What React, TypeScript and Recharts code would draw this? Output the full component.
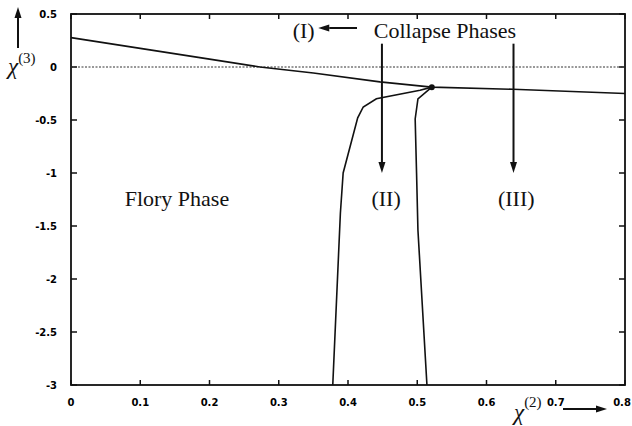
import React from 'react';
import {
  LineChart,
  Line,
  XAxis,
  YAxis,
  ReferenceLine,
  ReferenceDot,
} from 'recharts';

// phase boundary between Flory phase and collapse phase (I)
const boundaryX = [0, 0.1, 0.2, 0.273, 0.35, 0.446, 0.521, 0.638, 0.8];
const boundaryY = [0.277, 0.176, 0.074, 0, -0.057, -0.14, -0.19, -0.21, -0.25];

// left branch (Flory / II)
const leftX = [0.521, 0.504, 0.441, 0.422, 0.414, 0.393, 0.389, 0.378];
const leftY = [-0.19, -0.22, -0.3, -0.377, -0.48, -1.0, -1.38, -3];

// right branch (II / III)
const rightX = [0.521, 0.501, 0.497, 0.499, 0.501, 0.514];
const rightY = [-0.19, -0.3, -0.49, -1.0, -1.54, -3];

const xTicks = [0, 0.1, 0.2, 0.3, 0.4, 0.5, 0.6, 0.7, 0.8];
const yTicks = [0.5, 0, -0.5, -1, -1.5, -2, -2.5, -3];

const triplePoint = { x: 0.521, y: -0.19 };

const toPoints = (xs: number[], ys: number[]) => xs.map((x, i) => ({ x, y: ys[i] }));
const boundary = toPoints(boundaryX, boundaryY);
const leftBranch = toPoints(leftX, leftY);
const rightBranch = toPoints(rightX, rightY);

const X_DOMAIN = [0, 0.8];
const Y_DOMAIN = [-3, 0.5];

// two points well inside the plot; the frame shape maps data to pixels from them
const frameFrom = { x: 0.1, y: -2.5 };
const frameTo = { x: 0.7, y: 0 };

const serif = 'Liberation Serif';

const XTick = (props: any) => {
  const { x, y, payload } = props;
  return (
    <text x={x} y={y + 9} textAnchor="middle" fontFamily="DejaVu Sans" fontWeight="bold" fontSize={10} fill="#000">
      {payload.value}
    </text>
  );
};

const YTick = (props: any) => {
  const { x, y, payload } = props;
  return (
    <text x={x} y={y + 3.5} textAnchor="end" fontFamily="DejaVu Sans" fontWeight="bold" fontSize={10} fill="#000">
      {payload.value}
    </text>
  );
};

// box round the plot with inward ticks on all four sides
const FrameShape = (props: any) => {
  const { x1, y1, x2, y2 } = props;
  const sx = (x2 - x1) / (frameTo.x - frameFrom.x);
  const sy = (y2 - y1) / (frameTo.y - frameFrom.y);
  const px = (v: number) => x1 + (v - frameFrom.x) * sx;
  const py = (v: number) => y1 + (v - frameFrom.y) * sy;
  const left = px(X_DOMAIN[0]);
  const right = px(X_DOMAIN[1]);
  const top = py(Y_DOMAIN[1]);
  const bottom = py(Y_DOMAIN[0]);
  return (
    <g stroke="#111" fill="none">
      <rect x={left} y={top} width={right - left} height={bottom - top} strokeWidth={1.8} />
      {xTicks.map((t) => (
        <g key={`x${t}`} strokeWidth={1.5}>
          <line x1={px(t)} y1={bottom} x2={px(t)} y2={bottom - 5} />
          <line x1={px(t)} y1={top} x2={px(t)} y2={top + 5} />
        </g>
      ))}
      {yTicks.map((t) => (
        <g key={`y${t}`} strokeWidth={1.5}>
          <line x1={left} y1={py(t)} x2={left + 6} y2={py(t)} />
          <line x1={right} y1={py(t)} x2={right - 6} y2={py(t)} />
        </g>
      ))}
    </g>
  );
};

// line with a filled head at the end point
const Arrow = (props: any) => {
  const { x1, y1, x2, y2 } = props;
  const dx = x2 - x1;
  const dy = y2 - y1;
  const len = Math.sqrt(dx * dx + dy * dy) || 1;
  const ux = dx / len;
  const uy = dy / len;
  const hl = 11;
  const hw = 3.5;
  const bx = x2 - ux * hl;
  const by = y2 - uy * hl;
  return (
    <g>
      <line x1={x1} y1={y1} x2={bx} y2={by} stroke="#111" strokeWidth={2} />
      <polygon
        points={`${x2},${y2} ${bx - uy * hw},${by + ux * hw} ${bx + uy * hw},${by - ux * hw}`}
        fill="#111"
      />
    </g>
  );
};

const textLabel = (value: string) => ({
  value,
  position: 'center' as const,
  fontSize: 22,
  fontFamily: serif,
  fill: '#111',
});

const YTitle = (props: any) => {
  const vb = props.viewBox || { x: 0, y: 14 };
  const ax = vb.x + 18;
  return (
    <g>
      <Arrow x1={ax} y1={vb.y + 34} x2={ax} y2={vb.y - 7} />
      <text x={vb.x + 8} y={vb.y + 60} fontFamily={serif} fontSize={23} fill="#111">
        <tspan fontStyle="italic">χ</tspan>
        <tspan fontSize={15} dy={-11}>(3)</tspan>
      </text>
    </g>
  );
};

const XTitle = (props: any) => {
  const vb = props.viewBox || { x: 71, y: 385 };
  return (
    <g>
      <text x={vb.x + 443} y={vb.y + 35} fontFamily={serif} fontSize={23} fill="#111">
        <tspan fontStyle="italic">χ</tspan>
        <tspan fontSize={15} dy={-13}>(2)</tspan>
      </text>
      <Arrow x1={vb.x + 492} y1={vb.y + 24} x2={vb.x + 536} y2={vb.y + 24} />
    </g>
  );
};

export default function App() {
  return (
    <div style={{ position: 'absolute', left: 0, top: 0, background: '#fff' }}>
      <LineChart width={632} height={426} margin={{ top: 14, right: 7, bottom: 0, left: 0 }}>
        <XAxis
          dataKey="x"
          type="number"
          domain={X_DOMAIN}
          ticks={xTicks}
          height={41}
          axisLine={false}
          tickLine={false}
          tickMargin={6}
          tick={<XTick />}
          allowDuplicatedCategory={false}
          label={{ content: <XTitle /> }}
        />
        <YAxis
          dataKey="y"
          type="number"
          domain={Y_DOMAIN}
          ticks={yTicks}
          width={71}
          axisLine={false}
          tickLine={false}
          tickMargin={8}
          tick={<YTick />}
          label={{ content: <YTitle /> }}
        />
        <ReferenceLine segment={[frameFrom, frameTo]} shape={<FrameShape />} />
        <ReferenceLine y={0} stroke="#333" strokeWidth={1} strokeDasharray="2 1.5" />
        <Line data={boundary} dataKey="y" type="linear" stroke="#111" strokeWidth={1.6} dot={false} isAnimationActive={false} />
        <Line data={leftBranch} dataKey="y" type="linear" stroke="#111" strokeWidth={1.6} dot={false} isAnimationActive={false} />
        <Line data={rightBranch} dataKey="y" type="linear" stroke="#111" strokeWidth={1.6} dot={false} isAnimationActive={false} />
        <ReferenceDot x={triplePoint.x} y={triplePoint.y} r={3} fill="#111" stroke="none" />

        <ReferenceLine segment={[{ x: 0.413, y: 0.368 }, { x: 0.357, y: 0.368 }]} shape={<Arrow />} />
        <ReferenceLine segment={[{ x: 0.449, y: 0.22 }, { x: 0.449, y: -1.0 }]} shape={<Arrow />} />
        <ReferenceLine segment={[{ x: 0.639, y: 0.22 }, { x: 0.639, y: -1.0 }]} shape={<Arrow />} />

        <ReferenceDot x={0.336} y={0.346} r={0} label={textLabel('(I)')} />
        <ReferenceDot x={0.54} y={0.346} r={0} label={textLabel('Collapse Phases')} />
        <ReferenceDot x={0.153} y={-1.24} r={0} label={textLabel('Flory Phase')} />
        <ReferenceDot x={0.455} y={-1.24} r={0} label={textLabel('(II)')} />
        <ReferenceDot x={0.643} y={-1.24} r={0} label={textLabel('(III)')} />
      </LineChart>
    </div>
  );
}
